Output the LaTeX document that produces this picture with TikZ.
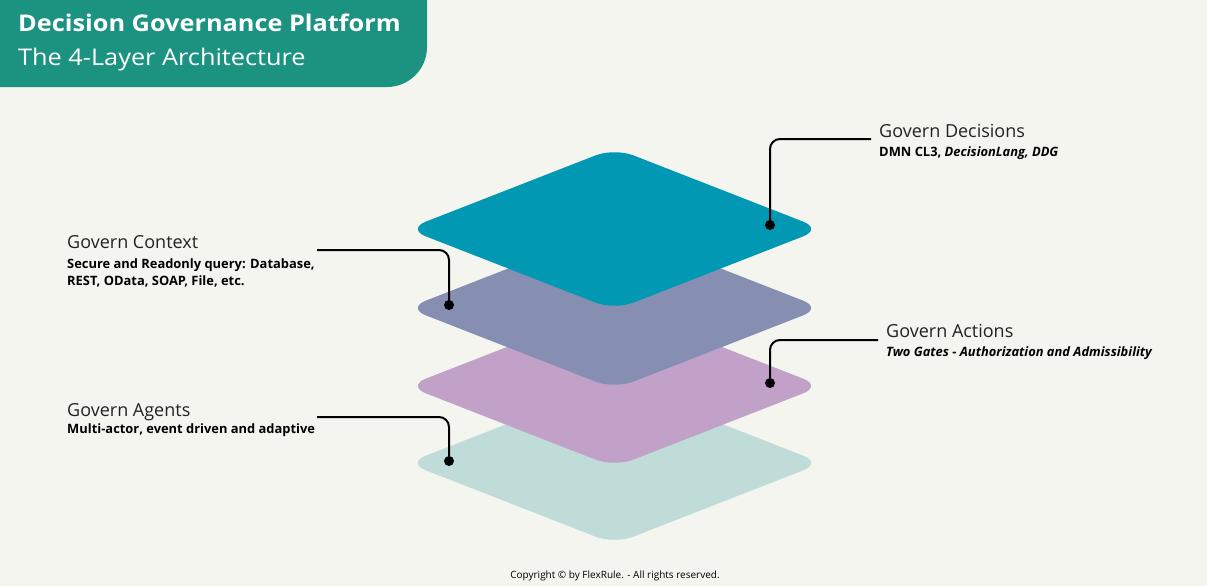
\documentclass[tikz,border=0pt]{standalone}
\usepackage{fontspec}
\setmainfont{Open Sans}
\newfontfamily\largetitre[FakeStretch=1.1]{Open Sans}
\definecolor{fond}{HTML}{F5F5F0}
\definecolor{bandeau}{HTML}{1C9381}
\definecolor{decisions}{HTML}{0098B3}
\definecolor{contexte}{HTML}{868FB2}
\definecolor{actions}{HTML}{C1A1C8}
\definecolor{agents}{HTML}{C0DCD8}
\definecolor{gristexte}{HTML}{222222}
\begin{document}
\begin{tikzpicture}[x=1pt, y=-1pt]
\tikzstyle{couche} = [rounded corners=20pt]
\tikzstyle{point} = [circle, fill=black, inner sep=0pt, minimum size=10pt]
\tikzstyle{trait} = [line width=2pt, rounded corners=10pt]
\tikzstyle{titre} = [anchor=base west, inner sep=0pt, text=gristexte, font=\fontsize{18}{22}\selectfont]
\tikzstyle{detail} = [anchor=base west, inner sep=0pt, align=left, font=\fontsize{12.9}{17}\selectfont\bfseries]
\fill[fond] (0,0) rectangle (1207,586);
\useasboundingbox (0,0) rectangle (1207,586);
% bandeau
\fill[bandeau] (0,0) -- (427,0) [rounded corners=40pt] -- (427,87) [sharp corners] -- (0,87) -- cycle;
\node[anchor=base west, inner sep=0pt, text=white, font=\largetitre\fontsize{23}{26}\selectfont\bfseries] (nom) at (18,31.5) {Decision Governance Platform};
\node[anchor=base west, inner sep=0pt, text=white, font=\largetitre\fontsize{23}{26}\selectfont] (sousnom) at (18,65.5) {The 4-Layer Architecture};
% couches
\foreach \cy/\col in {463/agents, 386/actions, 308/contexte, 229/decisions}
  \fill[couche, \col] (407,\cy) -- (614.5,\cy-81) -- (822,\cy) -- (614.5,\cy+81) -- cycle;
% legendes
\node[point] (pD) at (770,225) {};
\node[point] (pC) at (449,305) {};
\node[point] (pA) at (770,383) {};
\node[point] (pG) at (449,461) {};
\coordinate (fD) at (871,139);
\coordinate (fC) at (317,250);
\coordinate (fA) at (878,340);
\coordinate (fG) at (317,417);
\draw[trait] (pD.center) |- (fD);
\draw[trait] (pC.center) |- (fC);
\draw[trait] (pA.center) |- (fA);
\draw[trait] (pG.center) |- (fG);
\node[titre] (tD) at (879,137) {Govern Decisions};
\node[detail] (dD) at (879,156) {DMN CL3, \itshape DecisionLang, DDG};
\node[titre] (tC) at (67,248) {Govern Context};
\node[detail] (dC) at (67,285) {Secure and Readonly query: Database,\\REST, OData, SOAP, File, etc.};
\node[titre] (tA) at (886,337) {Govern Actions};
\node[detail] (dA) at (886,356) {\itshape Two Gates - Authorization and Admissibility};
\node[titre] (tG) at (67,416) {Govern Agents};
\node[detail] (dG) at (67,433.5) {Multi-actor, event driven and adaptive};
\node[anchor=base, inner sep=0pt, font=\fontsize{10}{12}\selectfont] (copy) at (615,578) {Copyright \textcopyright{} by FlexRule. - All rights reserved.};
\end{tikzpicture}
\end{document}
